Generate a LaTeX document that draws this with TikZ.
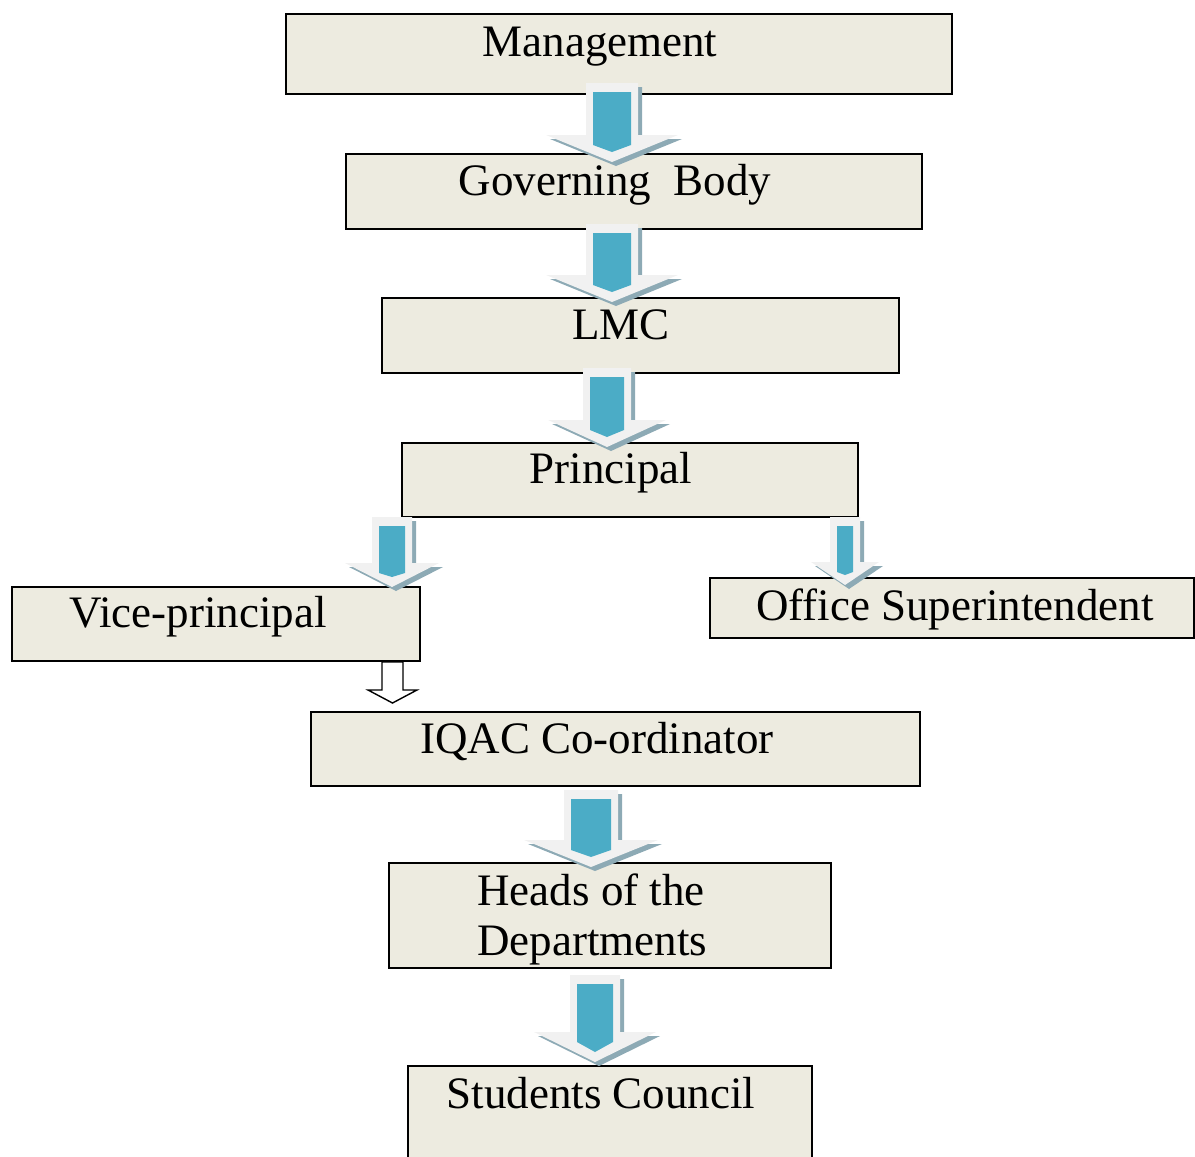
\documentclass[tikz,border=0pt]{standalone}
\usepackage{fontspec}
\setmainfont{Liberation Serif}
\usetikzlibrary{fit}

\definecolor{boxfill}{RGB}{237,235,224}
\definecolor{arrowcore}{RGB}{75,172,198}
\definecolor{arrowbody}{RGB}{241,241,241}
\definecolor{arrowshade}{RGB}{141,170,181}

\tikzset{
  box/.style={draw=black, line width=0.9pt, fill=boxfill, inner sep=0pt},
  lbl/.style={font=\fontsize{22.5}{25}\selectfont, inner sep=0pt, anchor=base},
}

%% #1 centre x, #2 top, #3 start of head, #4 tip, #5 half shaft, #6 half head
\newcommand{\blockarrow}[6]{%
  \fill[arrowshade] (#1-#5+4,#2+4) -- (#1+#5+4,#2+4) -- (#1+#5+4,#3+4)
    -- (#1+#6+4,#3+4) -- (#1+4,#4+4) -- (#1-#6+4,#3+4) -- (#1-#5+4,#3+4) -- cycle;
  \fill[arrowbody] (#1-#5,#2) -- (#1+#5,#2) -- (#1+#5,#3)
    -- (#1+#6,#3) -- (#1,#4) -- (#1-#6,#3) -- (#1-#5,#3) -- cycle;
  \fill[arrowcore] (#1-#5+7,#2+9) -- (#1+#5-7,#2+9) -- (#1+#5-7,#3+10)
    -- (#1,#4-10) -- (#1-#5+7,#3+10) -- cycle;%
}

\begin{document}
\begin{tikzpicture}[x=0.5pt,y=-0.5pt]
  \useasboundingbox (0,0) rectangle (1195,1157);

  %% boxes
  \node[box, fit={(286,14) (952,94)}] (mgmt) {};
  \node[box, fit={(346,154) (922,229)}] (gbody) {};
  \node[box, fit={(382,298) (899,373)}] (lmc) {};
  \node[box, fit={(402,443) (858,517)}] (princ) {};
  \node[box, fit={(12,587) (420,661)}] (vice) {};
  \node[box, fit={(710,578) (1194,638)}] (office) {};
  \node[box, fit={(311,712) (920,786)}] (iqac) {};
  \node[box, fit={(389,863) (831,968)}] (heads) {};
  \node[box, fit={(408,1066) (812,1175)}] (council) {};

  %% texts
  \node[lbl] (mgmt-t) at (600,56) {Management};
  \node[lbl] (gbody-t) at (615,195) {Governing\ \ Body};
  \node[lbl] (lmc-t) at (621,339) {LMC};
  \node[lbl] (princ-t) at (611,483) {Principal};
  \node[lbl] (vice-t) at (198,627) {Vice-principal};
  \node[lbl] (office-t) at (955,620) {Office Superintendent};
  \node[lbl] (iqac-t) at (597,753) {IQAC Co-ordinator};
  \node[lbl, anchor=west, align=left] (heads-t) at (477,919.5)
    {Heads of the\\Departments};
  \node[lbl] (council-t) at (601,1108) {Students Council};

  %% block arrows
  \foreach \ux/\uy/\uh/\ut/\uw/\uhw in {612/83/135/162/26/66,
    612/224/275/302/26/66, 607/368/420/447/24/59,
    392/517/563/587/20/47, 845/517/562/585/15/34,
    591/790/840/867/27/67, 595/975/1032/1062/25/61}
    \blockarrow{\ux}{\uy}{\uh}{\ut}{\uw}{\uhw};

  %% outline arrow vice-principal -> IQAC
  \draw[line width=0.7pt, fill=white] (vice.south -| 382,0) -- (382,690)
    -- (368,690) -- (392.5,703) -- (417,690) -- (403,690)
    -- (vice.south -| 403,0) -- cycle;
\end{tikzpicture}
\end{document}
